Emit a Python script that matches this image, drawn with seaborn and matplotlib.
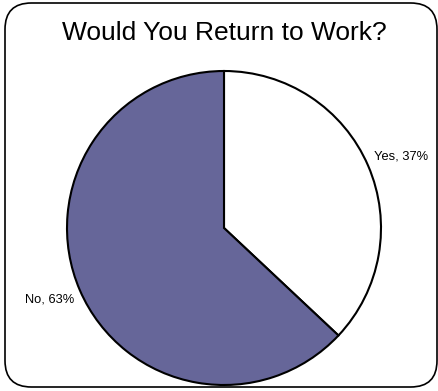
import matplotlib
matplotlib.use("Agg")
import matplotlib.pyplot as plt
from matplotlib.patches import FancyBboxPatch
import numpy as np
import seaborn as sns

categories = ["Yes", "No"]
values = [37, 63]
colors = ["#FFFFFF", "#666699"]
title = "Would You Return to Work?"

sns.set_style("white")
plt.rcParams["font.family"] = ["Liberation Sans", "DejaVu Sans"]
plt.rcParams["text.color"] = "black"

W, H = 439, 391
fig = plt.figure(figsize=(W / 100, H / 100), dpi=100)

# rounded frame
frame = FancyBboxPatch((5 / W, 4 / H), 432 / W, 384 / H,
                       boxstyle="round,pad=0,rounding_size=0.06",
                       transform=fig.transFigure, facecolor="none",
                       edgecolor="black", linewidth=1.2, mutation_aspect=W / H,
                       zorder=-1)
fig.patches.append(frame)

cx, cy, r = 224, 228, 157
ax = fig.add_axes([(cx - r) / W, (H - cy - r) / H, 2 * r / W, 2 * r / H])
ax.patch.set_alpha(0)
labels = [f"{c}, {v}%" for c, v in zip(categories, values)]
wedges, _ = ax.pie(values, colors=colors, startangle=90,
                   counterclock=False,
                   wedgeprops=dict(edgecolor="black", linewidth=1.5))
for w, lab in zip(wedges, labels):
    ang = np.deg2rad((w.theta1 + w.theta2) / 2)
    x, y = 1.04 * np.cos(ang), 1.15 * np.sin(ang)
    ax.text(x, y, lab, ha="left" if x > 0 else "right", va="center",
            fontsize=9.3, color="black")
ax.set_xlim(-1, 1)
ax.set_ylim(-1, 1)
ax.set_aspect("equal")
ax.axis("off")

fig.text(224 / W, 1 - 33 / H, title, ha="center", va="center", fontsize=19,
         color="black")

fig.savefig("out.png", dpi=100)
